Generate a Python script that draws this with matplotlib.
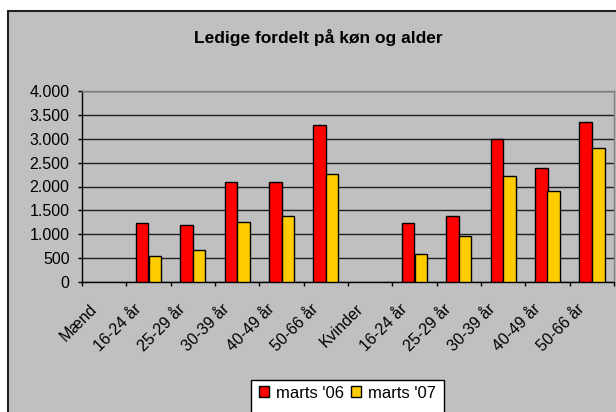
import numpy as np
import matplotlib
matplotlib.use("Agg")
import matplotlib.pyplot as plt
from matplotlib.patches import Rectangle, Patch
from matplotlib.ticker import FuncFormatter
from matplotlib.transforms import ScaledTranslation

plt.rcParams['font.family'] = ['Liberation Sans', 'DejaVu Sans']

# Data
categories = ["Mænd", "16-24 år", "25-29 år", "30-39 år", "40-49 år", "50-66 år",
              "Kvinder", "16-24 år", "25-29 år", "30-39 år", "40-49 år", "50-66 år"]
marts_06 = [0, 1230, 1190, 2090, 2090, 3290, 0, 1230, 1390, 2990, 2380, 3350]
marts_07 = [0, 550, 680, 1255, 1390, 2255, 0, 590, 965, 2220, 1905, 2805]
series_names = ["marts '06", "marts '07"]
yticks = [0, 500, 1000, 1500, 2000, 2500, 3000, 3500, 4000]

W, H = 616, 412
fig = plt.figure(figsize=(W / 100, H / 100), dpi=100, facecolor="white")

# grey chart area with dark border (cropped at right/bottom like the reference)
fig.patches.append(Rectangle((7.5 / W, -0.1), 1.0, 1.1 - 11 / H, transform=fig.transFigure,
                             facecolor="#C0C0C0", edgecolor="#202020", lw=1.5, zorder=-10))

ax = fig.add_axes([82 / W, 1 - 282 / H, (614 - 82) / W, (282 - 91) / H])
ax.set_facecolor("#C0C0C0")

x = np.arange(len(categories))
bw = 1 / 3.5
# empty header categories (Mænd / Kvinder) get no outline
ax.bar(x - bw / 2, marts_06, bw, color="#FF0000", edgecolor="black",
       lw=[1 if v else 0 for v in marts_06], zorder=3)
ax.bar(x + bw / 2, marts_07, bw, color="#FFCC00", edgecolor="black",
       lw=[1 if v else 0 for v in marts_07], zorder=3)

ax.set_xlim(-0.5, len(categories) - 0.5)
ax.set_ylim(0, 4000)
ax.set_yticks(yticks)
ax.yaxis.set_major_formatter(FuncFormatter(lambda v, p: f"{int(v):,}".replace(",", ".")))
ax.yaxis.grid(True, color="#202020", lw=1, zorder=1)
ax.set_axisbelow(True)

# ticks between categories, labels at centers
ax.set_xticks(np.arange(len(categories) + 1) - 0.5)
ax.set_xticklabels([])
ax.set_xticks(x, minor=True)
ax.set_xticklabels(categories, minor=True, rotation=45, ha="right", va="top",
                   rotation_mode="anchor", fontsize=11.5)
ax.tick_params(axis="x", which="minor", length=0, pad=14)
ax.tick_params(axis="x", which="major", length=3, width=1, color="black", direction="out")
ax.tick_params(axis="y", length=3, width=1, direction="out", labelsize=11.5, pad=6)
shift = ScaledTranslation(-0.15, 0, fig.dpi_scale_trans)
for lab in ax.get_xticklabels(minor=True):
    lab.set_transform(lab.get_transform() + shift)

for s in ["left", "bottom"]:
    ax.spines[s].set_color("black")
    ax.spines[s].set_linewidth(1)
for s in ["top", "right"]:
    ax.spines[s].set_color("#808080")
    ax.spines[s].set_linewidth(1)

fig.text(318 / W, 1 - 38 / H, "Ledige fordelt på køn og alder", ha="center", va="center",
         fontsize=12.5, fontweight="bold")

# legend box (extends below the visible area)
fig.patches.append(Rectangle((251 / W, -10 / H), (444 - 251) / W, (412 + 10 - 380) / H,
                             transform=fig.transFigure, facecolor="white",
                             edgecolor="black", lw=1, zorder=-5))
handles = [Patch(facecolor="#FF0000", edgecolor="black", lw=1),
           Patch(facecolor="#FFCC00", edgecolor="black", lw=1)]
fig.legend(handles, series_names, loc="center", bbox_to_anchor=(347.5 / W, 1 - 393 / H),
           ncol=2, frameon=False, fontsize=12, handlelength=0.6, handleheight=0.6,
           handletextpad=0.4, columnspacing=0.45, borderpad=0)

fig.savefig("out.png", dpi=100, facecolor="white")
